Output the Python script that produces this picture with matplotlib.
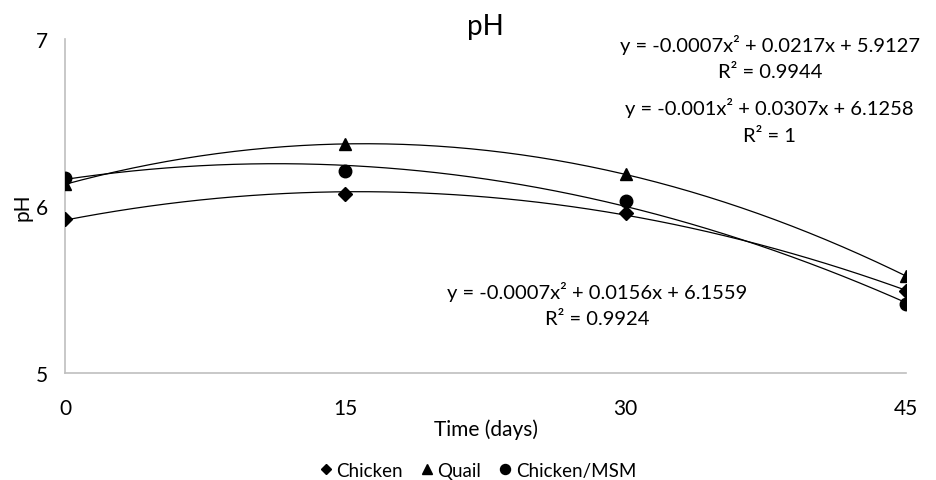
import numpy as np
import matplotlib
matplotlib.use('Agg')
import matplotlib.pyplot as plt

plt.rcParams['font.family'] = ['Lato', 'DejaVu Sans']

days = [0, 15, 30, 45]
chicken = [5.92, 6.07, 5.96, 5.49]
quail = [6.13, 6.37, 6.19, 5.58]
chicken_msm = [6.17, 6.21, 6.03, 5.41]

series_names = ['Chicken', 'Quail', 'Chicken/MSM']
markers = ['D', '^', 'o']
marker_sizes = [7, 9, 9]

# (equation, R2, x centre, y of equation line, y of R2 line) in axes fractions
labels = [
    ('y = -0.0007x\u00b2 + 0.0217x + 5.9127', 'R\u00b2 = 0.9944', 0.838, 0.985, 0.901),
    ('y = -0.001x\u00b2 + 0.0307x + 6.1258', 'R\u00b2 = 1', 0.838, 0.796, 0.710),
    ('y = -0.0007x\u00b2 + 0.0156x + 6.1559', 'R\u00b2 = 0.9924', 0.633, 0.246, 0.162),
]

fig = plt.figure(figsize=(9.37, 4.81), dpi=100)
ax = fig.add_axes([0.0694, 0.2225, 0.8975, 0.6945])

xs = np.linspace(0, 45, 200)
for vals, name, m, ms in zip([chicken, quail, chicken_msm], series_names, markers, marker_sizes):
    coef = np.polyfit(days, vals, 2)
    ax.plot(xs, np.polyval(coef, xs), color='black', lw=0.9, zorder=2)
    ax.plot(days, vals, ls='none', marker=m, ms=ms, color='black', label=name, zorder=3)

for eq, r2, px, py1, py2 in labels:
    ax.text(px, py1, eq, transform=ax.transAxes, ha='center', va='center', fontsize=14.5)
    ax.text(px, py2, r2, transform=ax.transAxes, ha='center', va='center', fontsize=14.5)

ax.set_xlim(0, 45)
ax.set_ylim(5, 7)
ax.set_xticks(days)
ax.set_yticks([5, 6, 7])
ax.tick_params(length=0, labelsize=15)
ax.tick_params(axis='x', pad=18)
ax.tick_params(axis='y', pad=12)

for s in ['top', 'right']:
    ax.spines[s].set_visible(False)
for s in ['left', 'bottom']:
    ax.spines[s].set_color('#bfbfbf')
    ax.spines[s].set_linewidth(1.2)

ax.set_title('pH', fontsize=20, pad=0)
ax.set_xlabel('Time (days)', fontsize=15, labelpad=0)
ax.set_ylabel('pH', fontsize=15, labelpad=3)

ax.legend(loc='upper center', bbox_to_anchor=(0.49, -0.215), ncol=3, frameon=False,
          fontsize=13.5, handlelength=0.8, handletextpad=0.15, columnspacing=0.9,
          markerscale=0.8)

fig.savefig('out.png', dpi=100)
